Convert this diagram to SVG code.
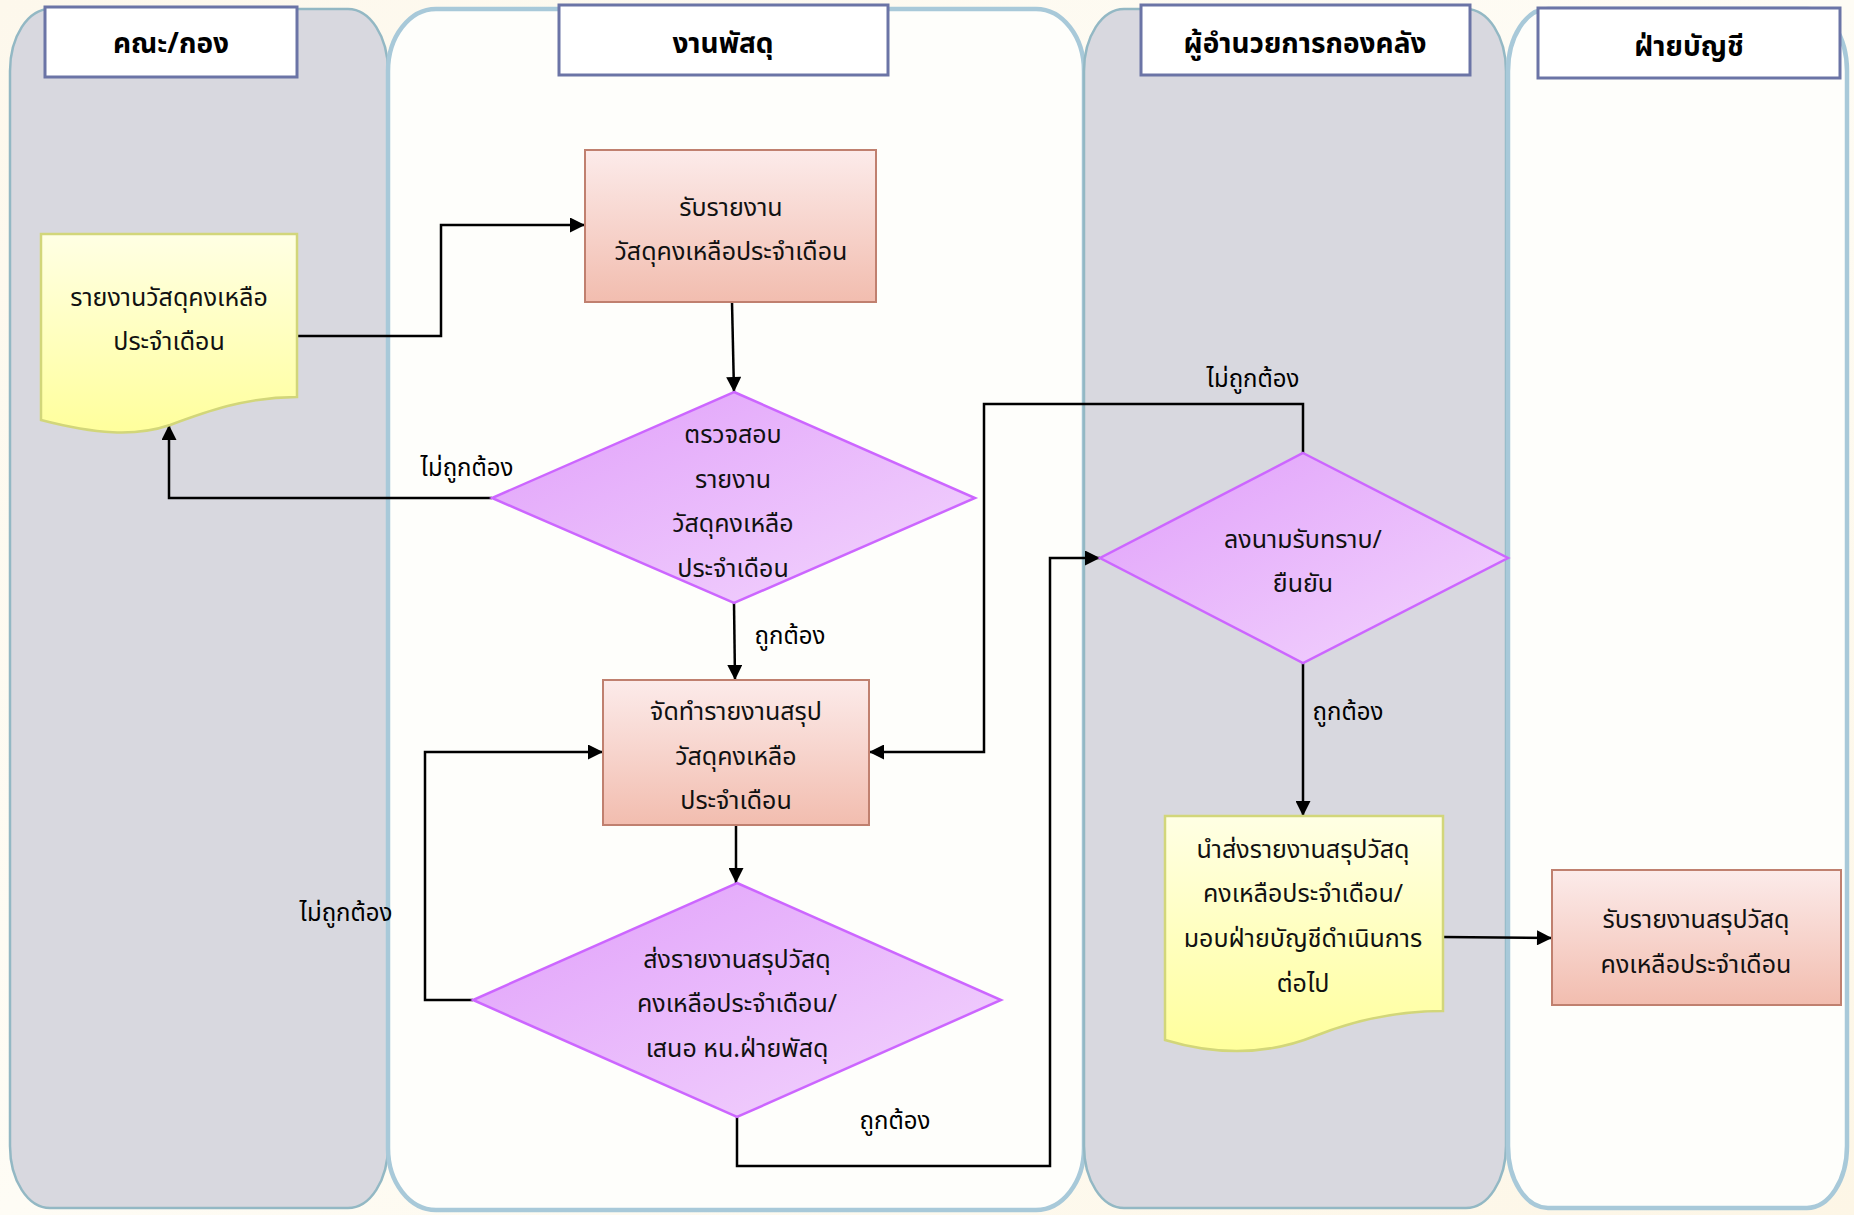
<svg xmlns="http://www.w3.org/2000/svg" width="1854" height="1215" viewBox="0 0 1854 1215">
  <defs>
    <linearGradient id="bg" x1="0" y1="0" x2="1" y2="1">
      <stop offset="0" stop-color="#fdf8ec"/>
      <stop offset="0.5" stop-color="#fefcf5"/>
      <stop offset="1" stop-color="#fdf6e6"/>
    </linearGradient>
    <linearGradient id="gProc" x1="0" y1="0" x2="0" y2="1">
      <stop offset="0" stop-color="#fcebea"/>
      <stop offset="1" stop-color="#f2bdaf"/>
    </linearGradient>
    <linearGradient id="gDoc" x1="0" y1="0" x2="0" y2="1">
      <stop offset="0" stop-color="#ffffe4"/>
      <stop offset="1" stop-color="#ffff9c"/>
    </linearGradient>
    <linearGradient id="gDec" x1="0" y1="0" x2="1" y2="1">
      <stop offset="0" stop-color="#e09ffa"/>
      <stop offset="1" stop-color="#f3d6fd"/>
    </linearGradient>
    <marker id="arrow" viewBox="0 0 10 10" refX="10" refY="5" markerWidth="16" markerHeight="15" markerUnits="userSpaceOnUse" orient="auto">
      <path d="M0,0 L10,5 L0,10 Z" fill="#000"/>
    </marker>
    <style>
      .laneGrey { fill: #d8d8df; stroke: #93b8c4; stroke-width: 2.5; }
      .laneWhite { fill: #fefefb; stroke: #a8c9d9; stroke-width: 4.5; }
      .hdr { fill: #ffffff; stroke: #6b74a6; stroke-width: 3; }
      .hdrText { font-family: "Noto Sans Thai", "Noto Sans Thai UI", "Noto Sans", sans-serif; font-size: 28px; font-weight: bold; fill: #000; text-anchor: middle; }
      .proc { fill: url(#gProc); stroke: #c0806f; stroke-width: 2; }
      .doc { fill: url(#gDoc); stroke: #d2d67a; stroke-width: 2.5; }
      .dec { fill: url(#gDec); stroke: #cc66ff; stroke-width: 2.5; }
      .t { font-family: "Noto Sans Thai", "Noto Sans Thai UI", "Noto Sans", sans-serif; font-size: 25px; fill: #111; text-anchor: middle; }
      .lbl { font-family: "Noto Sans Thai", "Noto Sans Thai UI", "Noto Sans", sans-serif; font-size: 24px; fill: #000; text-anchor: middle; }
      .conn { fill: none; stroke: #000; stroke-width: 2.5; marker-end: url(#arrow); }
    </style>
  </defs>

  <!-- page background -->
  <rect x="0" y="0" width="1854" height="1215" fill="url(#bg)"/>

  <!-- swimlanes -->
  <g id="lanes">
    <rect class="laneGrey" x="10" y="9" width="378" height="1199" rx="40" ry="62"/>
    <rect class="laneWhite" x="388" y="9" width="696" height="1201" rx="48" ry="62"/>
    <rect class="laneGrey" x="1084" y="9" width="422" height="1199" rx="40" ry="62"/>
    <rect class="laneWhite" x="1508" y="9" width="339" height="1199" rx="40" ry="62"/>
  </g>

  <!-- lane headers -->
  <g id="header-faculty">
    <rect class="hdr" x="45" y="7" width="252" height="70"/>
    <text class="hdrText" x="171" y="53">คณะ/กอง</text>
  </g>
  <g id="header-supplies">
    <rect class="hdr" x="559" y="5" width="329" height="70"/>
    <text class="hdrText" x="723" y="53">งานพัสดุ</text>
  </g>
  <g id="header-director">
    <rect class="hdr" x="1141" y="5" width="329" height="70"/>
    <text class="hdrText" x="1305" y="53">ผู้อำนวยการกองคลัง</text>
  </g>
  <g id="header-accounting">
    <rect class="hdr" x="1538" y="8" width="302" height="70"/>
    <text class="hdrText" x="1689" y="56">ฝ่ายบัญชี</text>
  </g>

  <!-- connectors -->
  <g id="connectors">
    <path class="conn" d="M297,336 H441 V225 H585"/>
    <path class="conn" d="M732,302 L734,392"/>
    <path class="conn" d="M492,498 H169 V425"/>
    <path class="conn" d="M734,603 L735,680"/>
    <path class="conn" d="M736,825 V883"/>
    <path class="conn" d="M473,1000 H425 V752 H603"/>
    <path class="conn" d="M737,1117 V1166 H1050 V558 H1100"/>
    <path class="conn" d="M1303,453 V404 H984 V752 H869"/>
    <path class="conn" d="M1303,663 V816"/>
    <path class="conn" d="M1443,937 L1552,938"/>
    <text class="lbl" x="467" y="476">ไม่ถูกต้อง</text>
    <text class="lbl" x="790" y="644">ถูกต้อง</text>
    <text class="lbl" x="346" y="921">ไม่ถูกต้อง</text>
    <text class="lbl" x="895" y="1129">ถูกต้อง</text>
    <text class="lbl" x="1253" y="387">ไม่ถูกต้อง</text>
    <text class="lbl" x="1348" y="720">ถูกต้อง</text>
  </g>

  <!-- monthly stock report document -->
  <g id="doc-report">
    <path class="doc" d="M41,234 H297 V397 C245,397 205,412 170,425 C135,437 95,434 41,420 Z"/>
    <text class="t" x="169" y="306">รายงานวัสดุคงเหลือ</text>
    <text class="t" x="169" y="350">ประจำเดือน</text>
  </g>

  <!-- receive report -->
  <g id="proc-receive">
    <rect class="proc" x="585" y="150" width="291" height="152"/>
    <text class="t" x="731" y="216">รับรายงาน</text>
    <text class="t" x="731" y="260">วัสดุคงเหลือประจำเดือน</text>
  </g>

  <!-- check report -->
  <g id="dec-check">
    <polygon class="dec" points="734,392 975,498 734,603 492,498"/>
    <text class="t" x="733" y="443">ตรวจสอบ</text>
    <text class="t" x="733" y="488">รายงาน</text>
    <text class="t" x="733" y="532">วัสดุคงเหลือ</text>
    <text class="t" x="733" y="577">ประจำเดือน</text>
  </g>

  <!-- prepare summary -->
  <g id="proc-summary">
    <rect class="proc" x="603" y="680" width="266" height="145"/>
    <text class="t" x="736" y="720">จัดทำรายงานสรุป</text>
    <text class="t" x="736" y="765">วัสดุคงเหลือ</text>
    <text class="t" x="736" y="809">ประจำเดือน</text>
  </g>

  <!-- send summary to head of supplies -->
  <g id="dec-send">
    <polygon class="dec" points="737,883 1001,1000 737,1117 473,1000"/>
    <text class="t" x="737" y="968">ส่งรายงานสรุปวัสดุ</text>
    <text class="t" x="737" y="1012">คงเหลือประจำเดือน/</text>
    <text class="t" x="737" y="1057">เสนอ หน.ฝ่ายพัสดุ</text>
  </g>

  <!-- director signs off -->
  <g id="dec-sign">
    <polygon class="dec" points="1303,453 1508,558 1303,663 1100,558"/>
    <text class="t" x="1303" y="548">ลงนามรับทราบ/</text>
    <text class="t" x="1303" y="592">ยืนยัน</text>
  </g>

  <!-- forward summary to accounting -->
  <g id="doc-forward">
    <path class="doc" d="M1165,816 H1443 V1011 C1390,1011 1350,1022 1315,1036 C1275,1052 1225,1058 1165,1040 Z"/>
    <text class="t" x="1303" y="858">นำส่งรายงานสรุปวัสดุ</text>
    <text class="t" x="1303" y="902">คงเหลือประจำเดือน/</text>
    <text class="t" x="1303" y="947">มอบฝ่ายบัญชีดำเนินการ</text>
    <text class="t" x="1303" y="992">ต่อไป</text>
  </g>

  <!-- accounting receives summary -->
  <g id="proc-accounting">
    <rect class="proc" x="1552" y="870" width="289" height="135"/>
    <text class="t" x="1696" y="928">รับรายงานสรุปวัสดุ</text>
    <text class="t" x="1696" y="973">คงเหลือประจำเดือน</text>
  </g>
</svg>
